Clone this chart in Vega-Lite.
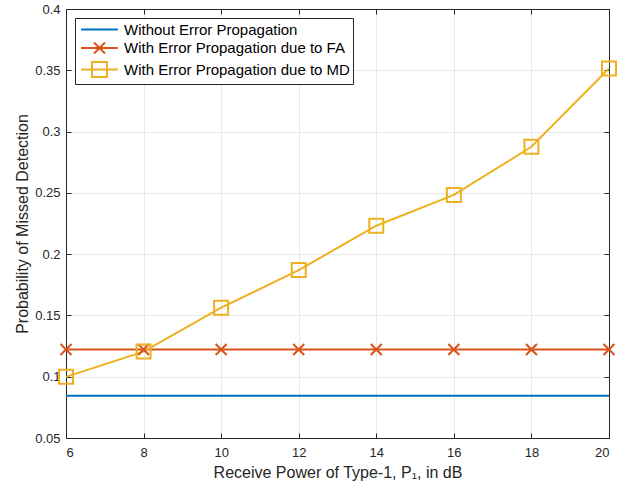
{
  "$schema": "https://vega.github.io/schema/vega-lite/v6.json",
  "width": 543,
  "height": 429,
  "autosize": {"type": "none"},
  "padding": {"left": 66, "top": 9, "right": 21, "bottom": 49},
  "background": "white",
  "config": {
    "font": "Liberation Sans",
    "view": {"stroke": "#262626", "strokeWidth": 1},
    "axis": {
      "labelFont": "Liberation Sans",
      "titleFont": "Liberation Sans",
      "labelColor": "#262626",
      "titleColor": "#262626",
      "labelFontSize": 13,
      "titleFontSize": 16,
      "titleFontWeight": "normal",
      "gridColor": "#e8e8e8",
      "gridWidth": 1,
      "domainColor": "#262626",
      "tickColor": "#262626",
      "tickSize": -5,
      "tickWidth": 1
    },
    "legend": {
      "labelFont": "Liberation Sans",
      "labelFontSize": 15,
      "labelColor": "#000000",
      "labelLimit": 400
    }
  },
  "data": {
    "values": [
      {"x": 6, "value": 0.0845, "series": "Without Error Propagation"},
      {"x": 8, "value": 0.0845, "series": "Without Error Propagation"},
      {"x": 10, "value": 0.0845, "series": "Without Error Propagation"},
      {"x": 12, "value": 0.0845, "series": "Without Error Propagation"},
      {"x": 14, "value": 0.0845, "series": "Without Error Propagation"},
      {"x": 16, "value": 0.0845, "series": "Without Error Propagation"},
      {"x": 18, "value": 0.0845, "series": "Without Error Propagation"},
      {"x": 20, "value": 0.0845, "series": "Without Error Propagation"},
      {"x": 6, "value": 0.1222, "series": "With Error Propagation due to FA"},
      {"x": 8, "value": 0.1222, "series": "With Error Propagation due to FA"},
      {"x": 10, "value": 0.1222, "series": "With Error Propagation due to FA"},
      {"x": 12, "value": 0.1222, "series": "With Error Propagation due to FA"},
      {"x": 14, "value": 0.1222, "series": "With Error Propagation due to FA"},
      {"x": 16, "value": 0.1222, "series": "With Error Propagation due to FA"},
      {"x": 18, "value": 0.1222, "series": "With Error Propagation due to FA"},
      {"x": 20, "value": 0.1222, "series": "With Error Propagation due to FA"},
      {"x": 6, "value": 0.0999, "series": "With Error Propagation due to MD"},
      {"x": 8, "value": 0.1205, "series": "With Error Propagation due to MD"},
      {"x": 10, "value": 0.1563, "series": "With Error Propagation due to MD"},
      {"x": 12, "value": 0.187, "series": "With Error Propagation due to MD"},
      {"x": 14, "value": 0.2232, "series": "With Error Propagation due to MD"},
      {"x": 16, "value": 0.2483, "series": "With Error Propagation due to MD"},
      {"x": 18, "value": 0.2876, "series": "With Error Propagation due to MD"},
      {"x": 20, "value": 0.3515, "series": "With Error Propagation due to MD"}
    ]
  },
  "resolve": {"axis": {"x": "independent", "y": "independent"}},
  "layer": [
    {
      "transform": [{"filter": "datum.series == 'Without Error Propagation'"}],
      "mark": {"type": "line", "strokeWidth": 2, "color": "#0072BD"},
      "encoding": {
        "x": {
          "field": "x",
          "type": "quantitative",
          "scale": {"domain": [6, 20], "nice": false, "zero": false},
          "axis": {"values": [6, 8, 10, 12, 14, 16, 18, 20], "title": "Receive Power of Type-1, P₁, in dB", "labelPadding": 13, "titlePadding": 5}
        },
        "y": {
          "field": "value",
          "type": "quantitative",
          "scale": {"domain": [0.05, 0.4], "nice": false, "zero": false},
          "axis": {"values": [0.05, 0.1, 0.15, 0.2, 0.25, 0.3, 0.35, 0.4], "format": ".2~f", "title": "Probability of Missed Detection", "labelPadding": 11, "titlePadding": 4}
        }
      }
    },
    {
      "transform": [{"filter": "datum.series == 'With Error Propagation due to FA'"}],
      "mark": {"type": "line", "strokeWidth": 2, "color": "#D95319"},
      "encoding": {
        "x": {"field": "x", "type": "quantitative", "axis": null},
        "y": {"field": "value", "type": "quantitative", "axis": null}
      }
    },
    {
      "transform": [{"filter": "datum.series == 'With Error Propagation due to MD'"}],
      "mark": {"type": "line", "strokeWidth": 2, "color": "#EDB120"},
      "encoding": {
        "x": {"field": "x", "type": "quantitative", "axis": null},
        "y": {"field": "value", "type": "quantitative", "axis": null}
      }
    },
    {
      "transform": [{"filter": "datum.series == 'With Error Propagation due to FA'"}],
      "mark": {"type": "point", "shape": "M-1,-1L1,1M-1,1L1,-1", "size": 121, "filled": false, "strokeWidth": 2, "color": "#D95319", "opacity": 1},
      "encoding": {
        "x": {"field": "x", "type": "quantitative", "axis": null},
        "y": {"field": "value", "type": "quantitative", "axis": null}
      }
    },
    {
      "transform": [{"filter": "datum.series == 'With Error Propagation due to MD'"}],
      "mark": {"type": "point", "shape": "square", "size": 196, "filled": false, "strokeWidth": 2, "color": "#EDB120", "opacity": 1},
      "encoding": {
        "x": {"field": "x", "type": "quantitative", "axis": null},
        "y": {"field": "value", "type": "quantitative", "axis": null}
      }
    },
    {
      "transform": [{"filter": "false"}],
      "mark": {"type": "point", "filled": false, "strokeWidth": 2, "opacity": 1},
      "encoding": {
        "x": {"field": "x", "type": "quantitative", "axis": {"orient": "top", "values": [6, 8, 10, 12, 14, 16, 18, 20], "labels": false, "title": null, "grid": false}},
        "y": {"field": "value", "type": "quantitative", "axis": {"orient": "right", "values": [0.05, 0.1, 0.15, 0.2, 0.25, 0.3, 0.35, 0.4], "labels": false, "title": null, "grid": false}},
        "color": {
          "field": "series",
          "type": "nominal",
          "scale": {
            "domain": ["Without Error Propagation", "With Error Propagation due to FA", "With Error Propagation due to MD"],
            "range": ["#0072BD", "#D95319", "#EDB120"]
          },
          "legend": {
            "title": null,
            "orient": "top-left",
            "offset": 9,
            "strokeColor": "#262626",
            "fillColor": "white",
            "padding": 3,
            "symbolSize": 225,
            "symbolStrokeWidth": 2,
            "symbolOpacity": 1,
            "symbolOffset": 13,
            "rowPadding": 0.5,
            "labelOffset": 16
          }
        },
        "shape": {
          "field": "series",
          "type": "nominal",
          "scale": {
            "domain": ["Without Error Propagation", "With Error Propagation due to FA", "With Error Propagation due to MD"],
            "range": [
              "M-2.45,0H2.45",
              "M-2.45,0H2.45M-0.73,-0.73L0.73,0.73M-0.73,0.73L0.73,-0.73",
              "M-2.45,0H2.45M-1,-1H1V1H-1Z"
            ]
          },
          "legend": {"title": null}
        }
      }
    }
  ]
}
